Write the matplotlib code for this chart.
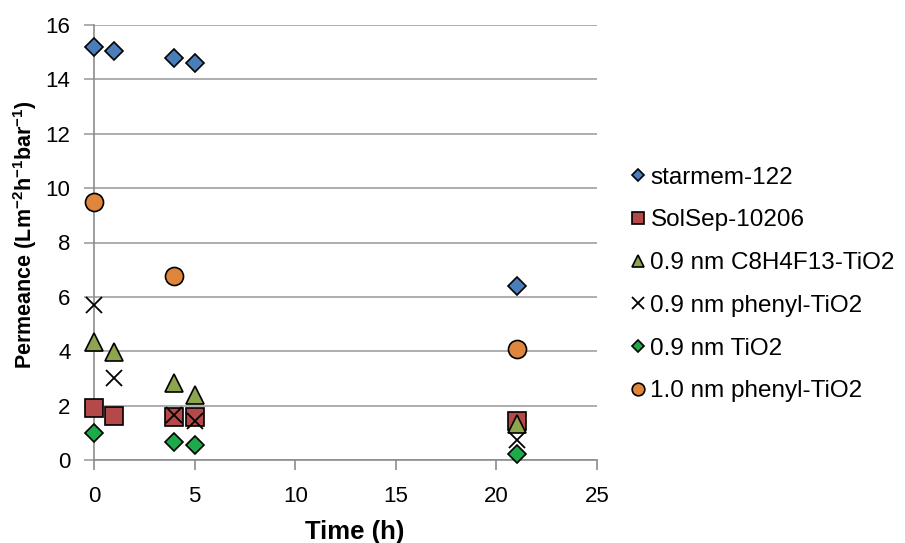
import matplotlib
matplotlib.use("Agg")
import matplotlib.pyplot as plt

plt.rcParams['font.family'] = ['Liberation Sans', 'DejaVu Sans']
plt.rcParams['mathtext.fontset'] = 'custom'
plt.rcParams['mathtext.rm'] = 'Liberation Sans:bold'
plt.rcParams['mathtext.bf'] = 'Liberation Sans:bold'
plt.rcParams['mathtext.default'] = 'bf'

series_names = ["starmem-122", "SolSep-10206", "0.9 nm C8H4F13-TiO2",
                "0.9 nm phenyl-TiO2", "0.9 nm TiO2", "1.0 nm phenyl-TiO2"]

t_starmem = [0, 1, 4, 5, 21]
p_starmem = [15.2, 15.05, 14.8, 14.6, 6.4]

t_solsep = [0, 1, 4, 5, 21]
p_solsep = [1.9, 1.63, 1.59, 1.57, 1.42]

t_c8 = [0, 1, 4, 5, 21]
p_c8 = [4.34, 3.97, 2.83, 2.39, 1.32]

t_phenyl09 = [0, 1, 4, 5, 21]
p_phenyl09 = [5.7, 3.0, 1.65, 1.45, 0.74]

t_tio2 = [0, 4, 5, 21]
p_tio2 = [1.0, 0.67, 0.55, 0.21]

t_phenyl10 = [0, 4, 21]
p_phenyl10 = [9.5, 6.77, 4.07]

x_ticks = [0, 5, 10, 15, 20, 25]
y_ticks = [0, 2, 4, 6, 8, 10, 12, 14, 16]

fig = plt.figure(figsize=(9.05, 5.43), dpi=100)
ax = fig.add_axes([94/905, (543-460)/543, (597-94)/905, (460-25)/543])

ec = 'black'
common = dict(linestyle='none', clip_on=False)
ax.plot(t_starmem, p_starmem, marker='D', ms=9, mfc='#4A7EBB', mec=ec, mew=1.2, label=series_names[0], zorder=3, **common)
ax.plot(t_solsep, p_solsep, marker='s', ms=12.5, mfc='#B5494A', mec=ec, mew=1.2, label=series_names[1], zorder=3, **common)
ax.plot(t_c8, p_c8, marker='^', ms=12.5, mfc='#8DA54E', mec=ec, mew=1.2, label=series_names[2], zorder=4, **common)
ax.plot(t_phenyl09, p_phenyl09, marker='x', ms=12, mec='black', mew=1.3, label=series_names[3], zorder=5, **common)
ax.plot(t_tio2, p_tio2, marker='D', ms=9, mfc='#1EAA4A', mec=ec, mew=1.2, label=series_names[4], zorder=3, **common)
ax.plot(t_phenyl10, p_phenyl10, marker='o', ms=13, mfc='#E0863C', mec=ec, mew=1.2, label=series_names[5], zorder=3, **common)

ax.set_xlim(0, 25)
ax.set_ylim(0, 16)
ax.set_xticks(x_ticks)
ax.set_yticks(y_ticks)
ax.set_xticklabels([str(v) for v in x_ticks])
ax.set_yticklabels([str(v) for v in y_ticks])

ax.grid(axis='y', color='#A0A0A0', linewidth=1.2, zorder=0)
ax.set_axisbelow(True)
for s in ['top', 'right']:
    ax.spines[s].set_visible(False)
ax.spines['left'].set_color('#8C8C8C')
ax.spines['left'].set_linewidth(1.2)
ax.spines['bottom'].set_color('#8C8C8C')
ax.spines['bottom'].set_linewidth(1.2)
ax.tick_params(axis='y', length=7, width=1.2, color='#A0A0A0', labelsize=16, pad=10)
ax.tick_params(axis='x', length=7, width=1.2, color='#8C8C8C', labelsize=16, pad=12)

ax.set_xlabel('Time (h)', fontsize=18.5, fontweight='bold')
ax.xaxis.set_label_coords((355-94)/503, (460-520)/435)
ax.set_ylabel(r'Permeance (Lm$^{-2}$h$^{-1}$bar$^{-1}$)', fontsize=15.5, fontweight='bold')
ax.yaxis.set_label_coords((39-94)/503, (460-235)/435)

leg = ax.legend(loc='center left', bbox_to_anchor=(631/905, 1 - 284.5/543), bbox_transform=fig.transFigure,
                frameon=False, fontsize=17.5,
                markerscale=0.7, handlelength=0.6, handletextpad=0.2, labelspacing=0.85,
                borderpad=0, borderaxespad=0, numpoints=1)

fig.savefig('out.png', dpi=100)
